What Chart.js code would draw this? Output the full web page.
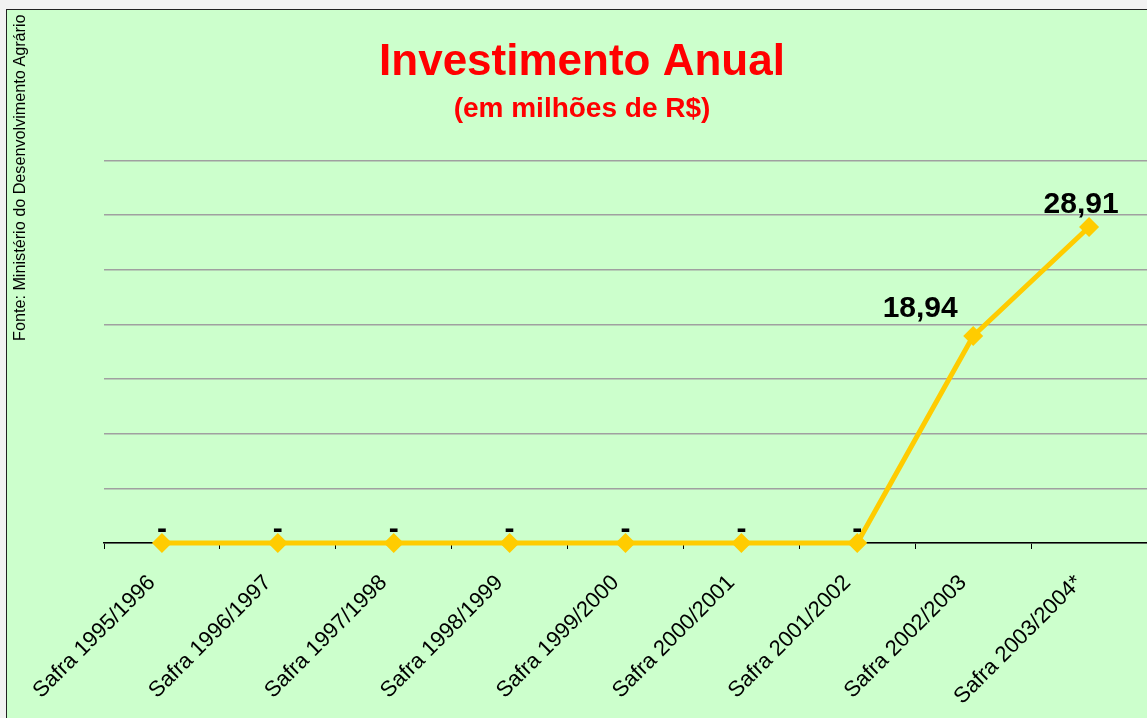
<!DOCTYPE html>
<html>
<head>
<meta charset="utf-8">
<script src="https://cdn.jsdelivr.net/npm/chart.js@4"></script>
<style>
  html, body { margin: 0; padding: 0; background: #f2f2f2; overflow: hidden; }
  #frame {
    position: absolute; left: 6px; top: 9px;
    width: 1150px; height: 708px;
    background: #ccffcc;
    border-left: 1px solid #222; border-top: 1px solid #222;
  }
  #source {
    position: absolute; left: 10px; top: 12px;
    writing-mode: vertical-rl; transform: rotate(180deg);
    font: 16.2px "Liberation Sans", Arial, sans-serif; color: #000;
    height: 329px; text-align: left; white-space: nowrap;
  }
</style>
</head>
<body>
<div id="frame"><canvas id="chart"></canvas></div>
<div id="source">Fonte: Ministério do Desenvolvimento Agrário</div>
<script>
// ==================== DATA ====================
const safras = [
  "Safra 1995/1996", "Safra 1996/1997", "Safra 1997/1998", "Safra 1998/1999",
  "Safra 1999/2000", "Safra 2000/2001", "Safra 2001/2002", "Safra 2002/2003",
  "Safra 2003/2004*"
];
const investimento = [0, 0, 0, 0, 0, 0, 0, 18.94, 28.91];
const yMax = 35;
const yStep = 5;

const FONT = '"Liberation Sans", Arial, sans-serif';

// rótulos de dados (estilo Excel): "-" para zero, vírgula decimal
const valueLabels = {
  id: "valueLabels",
  afterDatasetsDraw(chart, args, opts) {
    const ctx = chart.ctx;
    const meta = chart.getDatasetMeta(0);
    ctx.save();
    ctx.fillStyle = "#000";
    ctx.textAlign = "center";
    ctx.textBaseline = "alphabetic";
    ctx.font = `bold 30px ${FONT}`;
    meta.data.forEach((pt, i) => {
      const v = investimento[i];
      const shift = opts.shift[i] || [0, -5];
      const txt = v === 0 ? "-" : v.toFixed(2).replace(".", ",");
      ctx.fillText(txt, pt.x + shift[0], pt.y + shift[1]);
    });
    ctx.restore();
  }
};

new Chart(document.getElementById("chart"), {
  type: "line",
  data: {
    labels: safras,
    datasets: [{
      data: investimento,
      borderColor: "#ffcc00",
      backgroundColor: "#ffcc00",
      borderWidth: 5,
      tension: 0,
      clip: false,
      pointStyle: "rectRot",
      pointRadius: 10,
      pointBorderWidth: 0,
      pointBackgroundColor: "#ffcc00"
    }]
  },
  options: {
    responsive: true,
    maintainAspectRatio: false,
    animation: false,
    layout: { padding: 0 },
    plugins: {
      legend: { display: false },
      tooltip: { enabled: false },
      title: {
        display: true,
        text: "Investimento Anual",
        color: "#ff0000",
        font: { family: FONT, size: 44, weight: "bold", lineHeight: 1.2 },
        padding: { top: 26, bottom: 0 }
      },
      subtitle: {
        display: true,
        text: "(em milhões de R$)",
        color: "#ff0000",
        font: { family: FONT, size: 28, weight: "bold", lineHeight: 1.2 },
        padding: { top: 4, bottom: 34 }
      },
      valueLabels: {
        shift: { 7: [-53, -19], 8: [-8, -14] }
      }
    },
    scales: {
      x: {
        offset: true,
        afterFit(scale) { scale.height = 175; },
        grid: {
          offset: true,
          drawOnChartArea: false,
          drawTicks: true,
          tickLength: 6,
          color: "#000"
        },
        border: { display: true, color: "#000", width: 1.5 },
        ticks: {
          color: "#000",
          font: { family: FONT, size: 22 },
          minRotation: 45,
          maxRotation: 45,
          padding: 21,
          labelOffset: -10
        }
      },
      y: {
        min: 0,
        max: yMax,
        afterFit(scale) { scale.width = 97; },
        border: { display: false },
        grid: { color: "#a0a0a0", lineWidth: 1.5, drawTicks: false },
        ticks: { display: false, stepSize: yStep }
      }
    }
  },
  plugins: [valueLabels]
});
</script>
</body>
</html>
